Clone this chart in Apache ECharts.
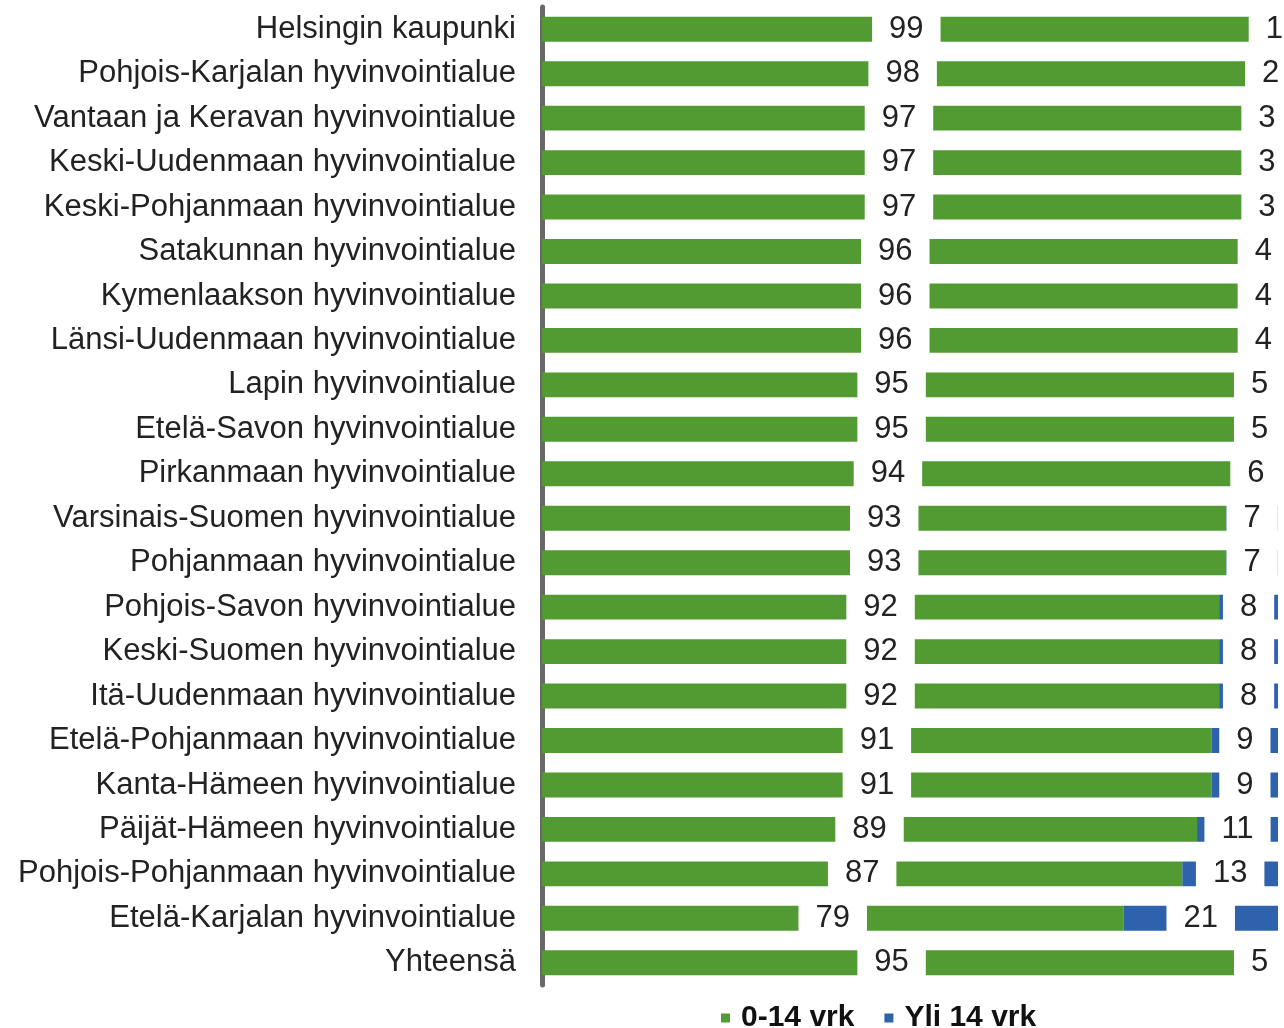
<!DOCTYPE html>
<html>
<head>
<meta charset="utf-8">
<script src="https://cdn.jsdelivr.net/npm/echarts@6/dist/echarts.min.js"></script>
<style>
  html, body { margin: 0; padding: 0; background: #fff; }
  #main { width: 1284px; height: 1028px; }
</style>
</head>
<body>
<div id="main"></div>
<script>
// alueet ylhäältä alas
const categories = [
  'Helsingin kaupunki',
  'Pohjois-Karjalan hyvinvointialue',
  'Vantaan ja Keravan hyvinvointialue',
  'Keski-Uudenmaan hyvinvointialue',
  'Keski-Pohjanmaan hyvinvointialue',
  'Satakunnan hyvinvointialue',
  'Kymenlaakson hyvinvointialue',
  'Länsi-Uudenmaan hyvinvointialue',
  'Lapin hyvinvointialue',
  'Etelä-Savon hyvinvointialue',
  'Pirkanmaan hyvinvointialue',
  'Varsinais-Suomen hyvinvointialue',
  'Pohjanmaan hyvinvointialue',
  'Pohjois-Savon hyvinvointialue',
  'Keski-Suomen hyvinvointialue',
  'Itä-Uudenmaan hyvinvointialue',
  'Etelä-Pohjanmaan hyvinvointialue',
  'Kanta-Hämeen hyvinvointialue',
  'Päijät-Hämeen hyvinvointialue',
  'Pohjois-Pohjanmaan hyvinvointialue',
  'Etelä-Karjalan hyvinvointialue',
  'Yhteensä'
];
const within14 = [99, 98, 97, 97, 97, 96, 96, 96, 95, 95, 94, 93, 93, 92, 92, 92, 91, 91, 89, 87, 79, 95];
const over14 = [1, 2, 3, 3, 3, 4, 4, 4, 5, 5, 6, 7, 7, 8, 8, 8, 9, 9, 11, 13, 21, 5];
const seriesNames = ['0-14 vrk', 'Yli 14 vrk'];

const chart = echarts.init(document.getElementById('main'));
const font = '"Liberation Sans", Arial, sans-serif';

// arvo valkoisella taustalla palkin keskellä
const barLabel = {
  show: true,
  position: 'inside',
  color: '#222',
  fontFamily: font,
  fontSize: 31,
  backgroundColor: '#fff',
  padding: [3, 17]
};

const option = {
  animation: false,
  textStyle: { fontFamily: font },
  grid: { left: 542, right: 6, top: 7, bottom: 43, containLabel: false },
  legend: {
    left: 716,
    top: 998,
    itemWidth: 9,
    itemHeight: 9,
    itemGap: 30,
    icon: 'rect',
    textStyle: { fontSize: 30, fontWeight: 'bold', color: '#111', fontFamily: font, padding: [0, 0, 0, 6] },
    data: seriesNames
  },
  xAxis: {
    type: 'value',
    min: 0,
    max: 100,
    show: false
  },
  yAxis: {
    type: 'category',
    inverse: true,
    data: categories,
    axisLine: { show: true, lineStyle: { color: '#686868', width: 5 } },
    axisTick: { show: false },
    axisLabel: { fontSize: 31, color: '#222', margin: 26, fontFamily: font }
  },
  series: [
    {
      name: seriesNames[0],
      type: 'bar',
      stack: 'total',
      barCategoryGap: '44%',
      data: within14,
      itemStyle: { color: '#519b32' },
      label: barLabel
    },
    {
      name: seriesNames[1],
      type: 'bar',
      stack: 'total',
      data: over14,
      itemStyle: { color: '#2e62ad' },
      label: barLabel
    }
  ]
};

option && chart.setOption(option);
</script>
</body>
</html>
